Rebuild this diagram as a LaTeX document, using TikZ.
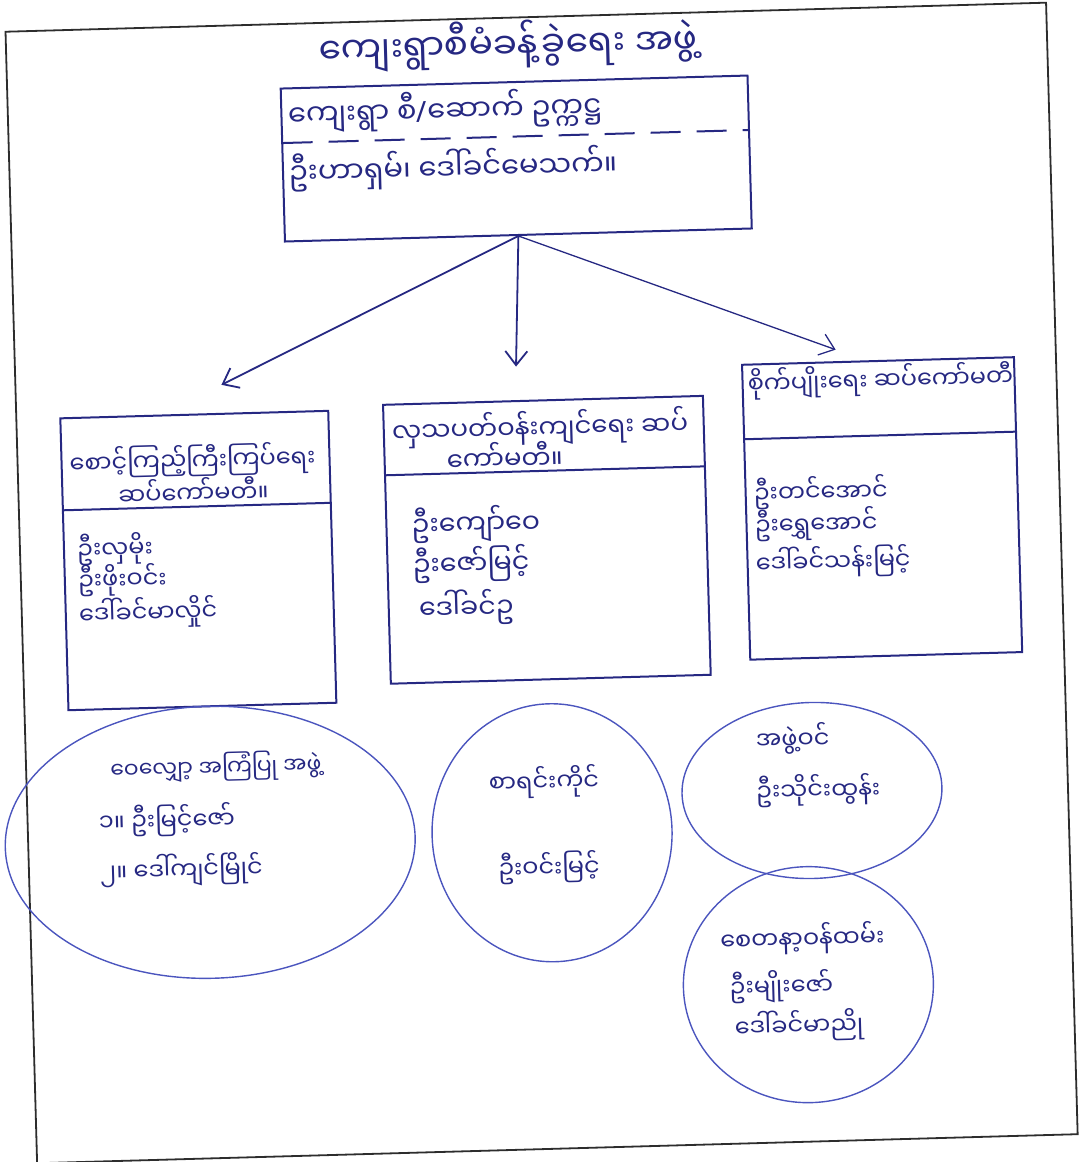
\documentclass[tikz,border=0pt]{standalone}
\usepackage{fontspec}
\usepackage{tikz}
\usetikzlibrary{shapes.geometric,arrows.meta}
\newfontfamily\mmfont[Script=Myanmar]{Noto Sans Myanmar UI}
\newfontfamily\latinfont{Noto Sans}
\definecolor{ink}{RGB}{38,40,130}
\definecolor{penblue}{RGB}{75,85,190}
\definecolor{frameink}{RGB}{45,45,45}
\tikzset{
	box/.style={draw=ink, line width=2pt, inner sep=0pt},
	ring/.style={draw=penblue, line width=1.4pt, ellipse, inner sep=0pt},
	txt/.style={font=\mmfont\fontsize{24}{28}\selectfont, text=ink, anchor=west, inner sep=0pt},
	bigtxt/.style={txt, font=\mmfont\fontsize{29}{34}\selectfont},
	link/.style={->, draw=ink, line width=1.8pt}
}

\begin{document}
\begin{tikzpicture}[x=1pt, y=-1pt, >={Straight Barb[length=14pt,width=22pt]}]
	\useasboundingbox (0,0) rectangle (1081,1162);
	\begin{scope}[rotate around={1.6:(540,580)}, transform shape]
		\draw[frameink, line width=1.8pt] (21,17) rectangle (1062,1149);

		% top committee
		\node[txt, anchor=center, font=\mmfont\fontsize{36}{40}\selectfont] (title) at (523,44) {ကျေးရွာစီမံခန့်ခွဲရေး အဖွဲ့};
		\node[box, minimum width=467, minimum height=153] (chair) at (528,158) {};
		\draw[ink, line width=2pt, dash pattern=on 30pt off 16pt] (295,136) -- (762,136);
		\node[bigtxt] (chairA) at (301,108) {ကျေးရွာ စီ{\latinfont /}ဆောက် ဥက္ကဋ္ဌ};
		\node[bigtxt] (chairB) at (300,166) {ဦးဟာရှမ်၊ ဒေါ်ခင်မေသက်။};

		% sub committees
		\node[box, minimum width=268, minimum height=292] (watch) at (199,551) {};
		\draw[ink, line width=2pt] (65,497) -- (333,497);
		\node[txt, anchor=center] (watchA) at (196,451) {စောင့်ကြည့်ကြီးကြပ်ရေး};
		\node[txt, anchor=center] (watchB) at (196,481) {ဆပ်ကော်မတီ။};
		\node[txt] (watch1) at (78,537) {ဦးလှမိုး};
		\node[txt] (watch2) at (78,568) {ဦးဖိုးဝင်း};
		\node[txt] (watch3) at (78,602) {ဒေါ်ခင်မာလှိုင်};

		\node[box, minimum width=320, minimum height=279] (env) at (548,540) {};
		\draw[ink, line width=2pt] (388,471) -- (708,471);
		\node[txt, font=\mmfont\fontsize{26}{30}\selectfont] (envA) at (396,428) {လှသပတ်ဝန်းကျင်ရေး ဆပ်};
		\node[txt, font=\mmfont\fontsize{26}{30}\selectfont] (envB) at (450,455) {ကော်မတီ။};
		\node[txt, font=\mmfont\fontsize{27}{30}\selectfont] (env1) at (413,522) {ဦးကျော်ဝေ};
		\node[txt, font=\mmfont\fontsize{27}{30}\selectfont] (env2) at (413,562) {ဦးဇော်မြင့်};
		\node[txt, font=\mmfont\fontsize{27}{30}\selectfont] (env3) at (418,606) {ဒေါ်ခင်ဥ};

		\node[box, minimum width=272, minimum height=295] (farm) at (884,518) {};
		\draw[ink, line width=2pt] (748,445) -- (1020,445);
		\node[txt] (farmA) at (753,390) {စိုက်ပျိုးရေး ဆပ်ကော်မတီ};
		\node[txt] (farm1) at (756,500) {ဦးတင်အောင်};
		\node[txt] (farm2) at (756,532) {ဦးရွှေအောင်};
		\node[txt] (farm3) at (756,570) {ဒေါ်ခင်သန်းမြင့်};

		\coordinate (tipL) at (227,376);
		\coordinate (tipM) at (522,366);
		\coordinate (tipR) at (842,358);
		\draw[link] (chair.south) -- (tipL);
		\draw[link] (chair.south) -- (tipM);
		\draw[link, line width=1.3pt] (chair.south) -- (tipR);

		% groups
		\node[ring, minimum width=410, minimum height=272] (advise) at (203,833) {};
		\node[txt, font=\mmfont\fontsize{22}{26}\selectfont] (adviseA) at (105,758) {ဝေလျှော့ အကြံပြု အဖွဲ့};
		\node[txt] (advise1) at (92,810) {၁။ ဦးမြင့်ဇော်};
		\node[txt] (advise2) at (92,860) {၂။ ဒေါ်ကျင်မြိုင်};

		\node[ring, minimum width=240, minimum height=258] (acct) at (545,833) {};
		\node[txt] (acctA) at (483,782) {စာရင်းကိုင်};
		\node[txt] (acct1) at (490,868) {ဦးဝင်းမြင့်};

		\node[ring, minimum width=260, minimum height=176] (member) at (806,798) {};
		\node[txt] (memberA) at (751,746) {အဖွဲ့ဝင်};
		\node[txt] (member1) at (750,798) {ဦးသိုင်းထွန်း};

		\node[ring, minimum width=250, minimum height=236] (volun) at (797,992) {};
		\node[txt] (volunA) at (710,946) {စေတနာ့ဝန်ထမ်း};
		\node[txt] (volun1) at (718,993) {ဦးမျိုးဇော်};
		\node[txt] (volun2) at (722,1033) {ဒေါ်ခင်မာညို};
	\end{scope}
\end{tikzpicture}
\end{document}
